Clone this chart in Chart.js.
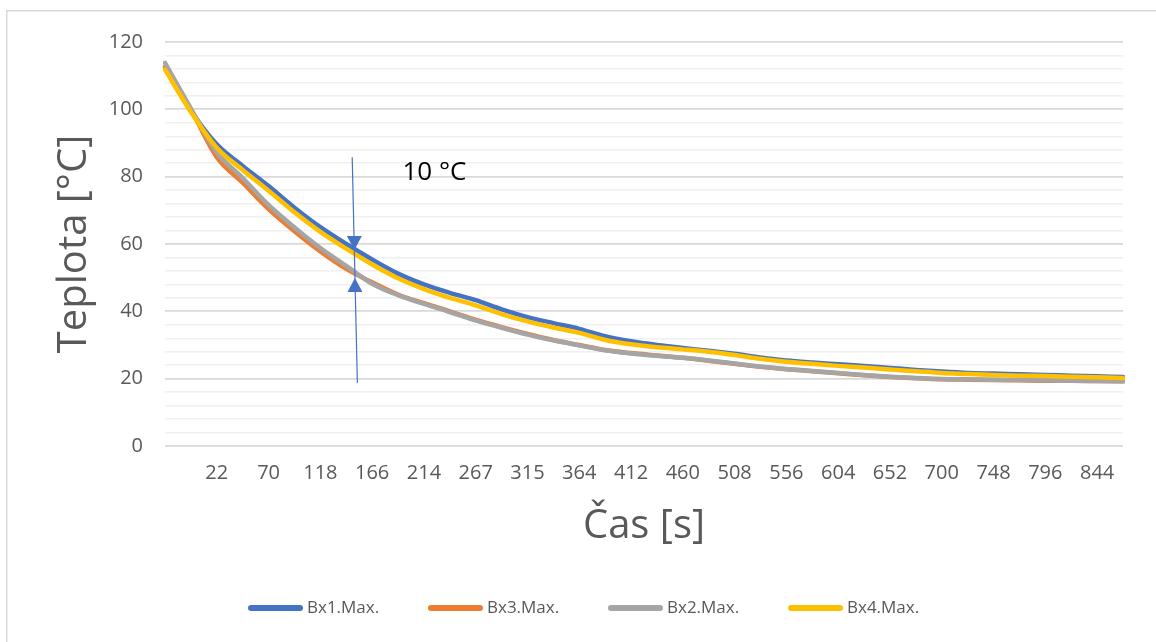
<!DOCTYPE html>
<html>
<head>
<meta charset="utf-8">
<script src="https://cdn.jsdelivr.net/npm/chart.js@4.4.1/dist/chart.umd.min.js"></script>
<style>
html,body{margin:0;padding:0;background:#fff;}
#wrap{position:relative;width:1156px;height:642px;}
canvas{display:block;}
</style>
</head>
<body>
<div id="wrap"><canvas id="c" width="1156" height="642"></canvas></div>
<script>
// ---- data ----
const timeLabels = ['0','10','22','46','70','94','118','142','166','190','214','240','267','291','315','339','364','388','412','436','460','484','508','532','556','580','604','628','652','676','700','724','748','772','796','820','844','868'];
const bx1 = [112.5,99.6,89.6,83.2,77.2,70.8,65.0,60.0,55.4,51.2,48.0,45.5,43.3,40.6,38.3,36.5,34.8,32.6,31.1,30.0,29.1,28.3,27.4,26.3,25.4,24.8,24.3,23.8,23.2,22.6,22.1,21.7,21.5,21.3,21.1,20.9,20.7,20.5];
const bx3 = [112.6,99.9,85.8,78.2,70.4,63.8,57.8,52.6,48.6,45.0,42.4,40.0,37.5,35.3,33.3,31.5,30.0,28.5,27.6,26.9,26.2,25.3,24.4,23.5,22.8,22.2,21.6,21.0,20.5,20.1,19.8,19.7,19.6,19.5,19.4,19.4,19.3,19.2];
const bx2 = [113.8,100.2,87.2,79.6,71.6,64.9,58.8,53.5,48.2,44.8,42.2,39.8,37.3,35.1,33.1,31.4,29.9,28.4,27.5,26.8,26.2,25.4,24.5,23.6,22.9,22.3,21.7,21.1,20.6,20.2,19.9,19.8,19.7,19.6,19.5,19.4,19.3,19.2];
const bx4 = [111.8,99.2,88.6,82.0,75.8,69.4,63.6,58.6,53.9,49.8,46.6,44.0,41.8,39.2,37.0,35.2,33.6,31.5,30.2,29.3,28.7,28.0,27.0,25.9,25.0,24.4,23.8,23.3,22.7,22.2,21.7,21.4,21.1,20.9,20.8,20.6,20.4,20.2];
const seriesNames = ['Bx1.Max.','Bx3.Max.','Bx2.Max.','Bx4.Max.'];
const yMin = 0, yMax = 120, yMinorStep = 4, yMajorStep = 20;
// annotation: arrow between the two groups of curves (category index, value)
const annoLine = {x1: 7.23, y1: 85.8, x2: 7.43, y2: 18.7};
const annoDownTip = 58.2, annoUpTip = 49.9;
const annoText = {x: 9.17, y: 81.1, text: '10 °C'};

Chart.defaults.font.family = "'Open Sans', 'DejaVu Sans', sans-serif";

const colors = ['#4472C4','#ED7D31','#A5A5A5','#FFC000'];
const values = [bx1, bx3, bx2, bx4];
const orders = [4,3,2,1];
const legendLayout = {startX: 248, step: 180, lineLen: 55, gap: 4, y: 608, fontSize: 17, lineWidth: 6};

const datasets = values.map((v,i)=>({
  label: seriesNames[i],
  data: v,
  borderColor: colors[i],
  backgroundColor: colors[i],
  borderWidth: 4.5,
  pointRadius: 0,
  pointHoverRadius: 0,
  cubicInterpolationMode: 'monotone',
  borderCapStyle: 'round',
  borderJoinStyle: 'round',
  fill: false,
  order: orders[i]
}));

const decor = {
  id: 'decor',
  beforeDraw(chart){
    const ctx = chart.ctx;
    ctx.save();
    ctx.fillStyle = '#fff';
    ctx.fillRect(0,0,chart.width,chart.height);
    ctx.strokeStyle = '#d9d9d9';
    ctx.lineWidth = 1.5;
    ctx.beginPath();
    ctx.moveTo(6.75, chart.height);
    ctx.lineTo(6.75, 10.75);
    ctx.lineTo(chart.width, 10.75);
    ctx.stroke();
    ctx.restore();
  },
  afterDatasetsDraw(chart){
    const ctx = chart.ctx, xs = chart.scales.x, ys = chart.scales.y;
    const X1 = xs.getPixelForValue(annoLine.x1), Y1 = ys.getPixelForValue(annoLine.y1);
    const X2 = xs.getPixelForValue(annoLine.x2), Y2 = ys.getPixelForValue(annoLine.y2);
    const xAt = (py)=> X1 + (X2-X1)*(py-Y1)/(Y2-Y1);
    ctx.save();
    ctx.strokeStyle = '#4472C4';
    ctx.fillStyle = '#4472C4';
    ctx.lineWidth = 1.2;
    ctx.beginPath(); ctx.moveTo(X1,Y1); ctx.lineTo(X2,Y2); ctx.stroke();
    const dT = ys.getPixelForValue(annoDownTip), uT = ys.getPixelForValue(annoUpTip);
    const hl = 14, hw = 7.5;
    let xd = xAt(dT);
    ctx.beginPath(); ctx.moveTo(xd, dT); ctx.lineTo(xd-hw, dT-hl); ctx.lineTo(xd+hw, dT-hl); ctx.closePath(); ctx.fill();
    let xu = xAt(uT);
    ctx.beginPath(); ctx.moveTo(xu, uT); ctx.lineTo(xu-hw, uT+hl); ctx.lineTo(xu+hw, uT+hl); ctx.closePath(); ctx.fill();
    ctx.fillStyle = '#000';
    ctx.font = "26px 'Open Sans', sans-serif";
    ctx.textBaseline = 'middle';
    ctx.textAlign = 'left';
    ctx.fillText(annoText.text, xs.getPixelForValue(annoText.x), ys.getPixelForValue(annoText.y));
    ctx.restore();
  },
  afterDraw(chart){
    // legend (series names and colours come from the datasets)
    const ctx = chart.ctx, L = legendLayout;
    ctx.save();
    ctx.font = L.fontSize + "px 'Open Sans', sans-serif";
    ctx.textBaseline = 'middle';
    ctx.textAlign = 'left';
    chart.data.datasets.forEach((ds, i) => {
      const x0 = L.startX + i * L.step;
      ctx.strokeStyle = ds.borderColor;
      ctx.lineWidth = L.lineWidth;
      ctx.lineCap = 'round';
      ctx.beginPath();
      ctx.moveTo(x0 + L.lineWidth/2, L.y);
      ctx.lineTo(x0 + L.lineLen - L.lineWidth/2, L.y);
      ctx.stroke();
      ctx.fillStyle = '#595959';
      ctx.fillText(ds.label, x0 + L.lineLen + L.gap, L.y);
    });
    ctx.restore();
  }
};

new Chart(document.getElementById('c'), {
  type: 'line',
  data: { labels: timeLabels, datasets },
  options: {
    responsive: false,
    animation: false,
    devicePixelRatio: 1,
    layout: { padding: { left: 33, right: 33, top: 42, bottom: 52.5 } },
    plugins: {
      tooltip: { enabled: false },
      legend: { display: false }
    },
    scales: {
      x: {
        type: 'category',
        offset: false,
        afterFit(s){ s.height = 143.5; },
        grid: { display: false, drawTicks: false },
        border: { display: false },
        ticks: {
          autoSkip: false, maxRotation: 0, minRotation: 0, padding: 15,
          color: '#595959', font: { size: 20 },
          callback: (v,i)=> (i>=2 && i%2===0) ? timeLabels[i] : ''
        },
        title: { display: true, text: 'Čas [s]', color: '#595959', font: { size: 40 }, padding: { top: 0, bottom: 38.5 } }
      },
      y: {
        min: yMin, max: yMax,
        afterFit(s){ s.width = 132; },
        grid: {
          drawTicks: false,
          color: c => (c.tick && c.tick.value % yMajorStep === 0) ? '#d9d9d9' : '#f0f0f0',
          lineWidth: c => (c.tick && c.tick.value % yMajorStep === 0) ? 1.8 : 1.5
        },
        border: { display: false },
        ticks: {
          stepSize: yMinorStep, autoSkip: false, padding: 22,
          color: '#595959', font: { size: 20 },
          callback: v => (v % yMajorStep === 0) ? v : ''
        },
        title: { display: true, text: 'Teplota [°C]', color: '#595959', font: { size: 40 }, padding: { top: 18, bottom: 0 } }
      }
    }
  },
  plugins: [decor]
});
</script>
</body>
</html>
